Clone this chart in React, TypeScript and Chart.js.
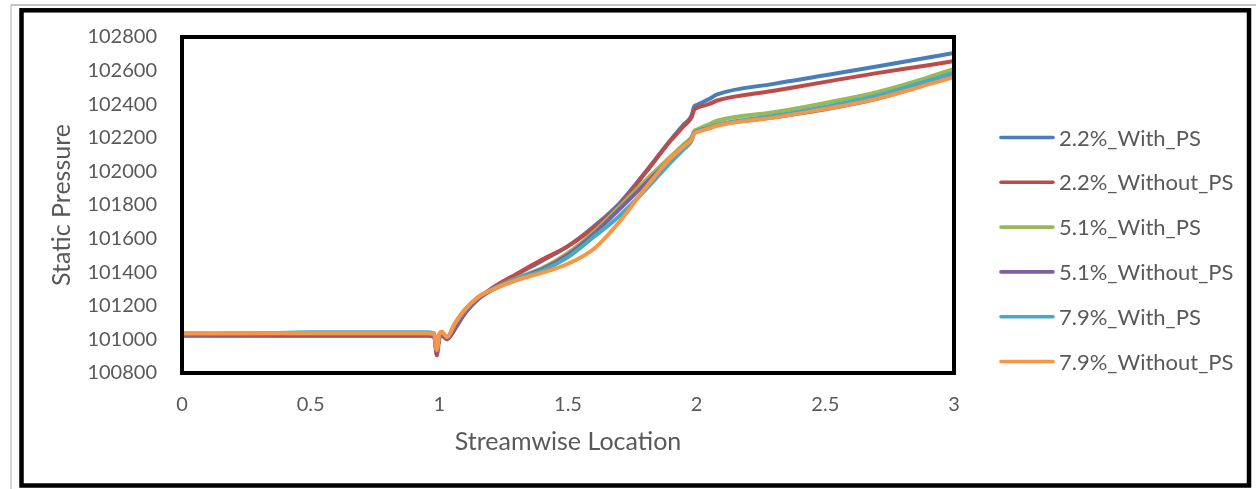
import React, { useEffect, useRef } from "react";
import { Chart, registerables } from "chart.js";

Chart.register(...registerables);

// ---- data ----
const xs = [0, 0.35, 0.5, 0.8, 0.95, 0.98, 0.99, 1.0, 1.01, 1.03, 1.06, 1.1, 1.15, 1.2, 1.3, 1.4, 1.5, 1.6, 1.7, 1.8, 1.9, 1.95, 1.98, 1.99, 2.0, 2.05, 2.08, 2.3, 2.5, 2.7, 2.9, 3.0];

const s22With = [101025, 101025, 101025, 101025, 101025, 101020, 100925, 101012, 101024, 101005, 101065, 101160, 101240, 101295, 101385, 101468, 101555, 101672, 101810, 101995, 102190, 102280, 102332, 102385, 102395, 102432, 102458, 102521, 102572, 102624, 102678, 102705];
const s22Without = [101022, 101022, 101022, 101022, 101022, 101015, 100905, 101005, 101022, 101000, 101060, 101155, 101238, 101300, 101390, 101475, 101555, 101665, 101800, 101990, 102185, 102270, 102322, 102365, 102377, 102402, 102422, 102480, 102533, 102585, 102632, 102657];
const s51With = [101030, 101036, 101036, 101036, 101036, 101030, 100935, 101025, 101035, 101010, 101080, 101165, 101242, 101292, 101365, 101425, 101515, 101640, 101790, 101945, 102090, 102162, 102205, 102240, 102248, 102282, 102302, 102352, 102408, 102472, 102560, 102610];
const s51Without = [101028, 101030, 101030, 101030, 101030, 101024, 100930, 101018, 101030, 101005, 101075, 101162, 101240, 101290, 101360, 101418, 101505, 101628, 101775, 101925, 102075, 102150, 102195, 102228, 102238, 102260, 102276, 102322, 102370, 102432, 102522, 102572];
const s79With = [101035, 101038, 101042, 101042, 101042, 101036, 100940, 101030, 101040, 101014, 101090, 101175, 101250, 101295, 101360, 101410, 101490, 101610, 101735, 101888, 102055, 102132, 102182, 102225, 102236, 102260, 102278, 102330, 102385, 102450, 102540, 102588];
const s79Without = [101036, 101036, 101036, 101036, 101036, 101032, 100937, 101032, 101045, 101015, 101095, 101180, 101252, 101292, 101352, 101397, 101450, 101538, 101700, 101900, 102080, 102150, 102192, 102225, 102233, 102256, 102272, 102320, 102372, 102432, 102518, 102562];

const seriesLabels = ["2.2%_With_PS", "2.2%_Without_PS", "5.1%_With_PS", "5.1%_Without_PS", "7.9%_With_PS", "7.9%_Without_PS"];
const seriesValues = [s22With, s22Without, s51With, s51Without, s79With, s79Without];
const seriesColors = ["#4A7EBB", "#BE4B48", "#98B954", "#7D60A0", "#46AAC5", "#F79646"];

const xTickValues = [0, 0.5, 1, 1.5, 2, 2.5, 3];
const yTickValues = [100800, 101000, 101200, 101400, 101600, 101800, 102000, 102200, 102400, 102600, 102800];

const xTitle = "Streamwise Location";
const yTitle = "Static Pressure";

const FONT = "Lato, 'Open Sans', sans-serif";
const TEXT_COLOR = "#595959";

const framePlugin = {
  id: "frame",
  beforeDraw(chart: any) {
    const ctx = chart.ctx;
    ctx.save();
    ctx.fillStyle = "#ffffff";
    ctx.fillRect(0, 0, chart.width, chart.height);
    ctx.strokeStyle = "#c8c8c8";
    ctx.lineWidth = 1.5;
    ctx.beginPath();
    ctx.moveTo(11, 5);
    ctx.lineTo(11, chart.height);
    ctx.stroke();
    ctx.strokeStyle = "#8a8a8a";
    ctx.lineWidth = 1.2;
    ctx.beginPath();
    ctx.moveTo(11, 5);
    ctx.lineTo(1256, 5);
    ctx.stroke();
    ctx.strokeStyle = "#000000";
    ctx.lineWidth = 4.5;
    ctx.strokeRect(21.5, 10.3, 1249 - 21.5, 485.5 - 10.3);
    ctx.restore();
  },
  afterDatasetsDraw(chart: any) {
    const { ctx, chartArea } = chart;
    ctx.save();
    ctx.strokeStyle = "#000000";
    ctx.lineWidth = 4;
    ctx.strokeRect(chartArea.left, chartArea.top, chartArea.right - chartArea.left, chartArea.bottom - chartArea.top);
    ctx.restore();
  },
  afterDraw(chart: any) {
    const ctx = chart.ctx;
    ctx.save();
    ctx.font = `22px ${FONT}`;
    ctx.textBaseline = "middle";
    ctx.textAlign = "left";
    chart.data.datasets.forEach((ds: any, i: number) => {
      const y = 137.5 + 44.8 * i;
      ctx.strokeStyle = ds.borderColor;
      ctx.lineWidth = 3.6;
      ctx.lineCap = "round";
      ctx.beginPath();
      ctx.moveTo(1001, y);
      ctx.lineTo(1053, y);
      ctx.stroke();
      ctx.fillStyle = TEXT_COLOR;
      ctx.fillText(ds.label, 1059, y + 1);
    });
    ctx.restore();
  },
};

export default function App() {
  const canvasRef = useRef<HTMLCanvasElement | null>(null);

  useEffect(() => {
    if (!canvasRef.current) return;
    const datasets = seriesLabels.map((label, i) => ({
      label,
      data: xs.map((x, j) => ({ x, y: seriesValues[i][j] })),
      borderColor: seriesColors[i],
      backgroundColor: seriesColors[i],
      borderWidth: 4,
      pointRadius: 0,
      fill: false,
      cubicInterpolationMode: "monotone" as const,
      order: seriesLabels.length - 1 - i,
    }));

    const chart = new Chart(canvasRef.current, {
      type: "line",
      data: { datasets },
      options: {
        animation: false,
        responsive: false,
        devicePixelRatio: 1,
        layout: { padding: { left: 0, top: 37, right: 304, bottom: 0 } },
        plugins: {
          legend: { display: false },
          tooltip: { enabled: false },
        },
        scales: {
          x: {
            type: "linear",
            min: 0,
            max: 3,
            afterBuildTicks: (scale: any) => {
              scale.ticks = xTickValues.map((v) => ({ value: v }));
            },
            afterFit: (scale: any) => {
              scale.height = 116;
            },
            grid: { display: false, drawTicks: false },
            border: { display: false },
            ticks: {
              padding: 20,
              color: TEXT_COLOR,
              font: { family: FONT, size: 20 },
              maxRotation: 0,
              callback: (v: any) => String(v),
            },
            title: {
              display: true,
              text: xTitle,
              color: TEXT_COLOR,
              font: { family: FONT, size: 25 },
              padding: { top: 0, bottom: 32 },
            },
          },
          y: {
            type: "linear",
            min: 100800,
            max: 102800,
            afterBuildTicks: (scale: any) => {
              scale.ticks = yTickValues.map((v) => ({ value: v }));
            },
            afterFit: (scale: any) => {
              scale.width = 182;
            },
            grid: { display: false, drawTicks: false },
            border: { display: false },
            ticks: {
              padding: 25,
              color: TEXT_COLOR,
              font: { family: FONT, size: 20 },
              callback: (v: any) => String(v),
            },
            title: {
              display: true,
              text: yTitle,
              color: TEXT_COLOR,
              font: { family: FONT, size: 25 },
              padding: { top: 47, bottom: 0 },
            },
          },
        },
      },
      plugins: [framePlugin],
    });
    return () => chart.destroy();
  }, []);

  return (
    <div style={{ position: "absolute", left: 0, top: 0, width: 1258, height: 489 }}>
      <canvas ref={canvasRef} width={1258} height={489} style={{ width: 1258, height: 489, display: "block" }} />
    </div>
  );
}
